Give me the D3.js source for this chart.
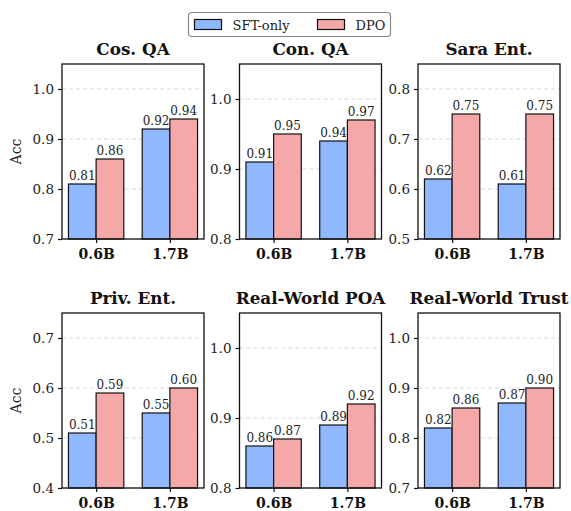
<!DOCTYPE html>
<html>
<head>
<meta charset="utf-8">
<script src="https://cdn.jsdelivr.net/npm/d3@7"></script>
<style>
  body { margin: 0; background: #fff; }
  svg { font-family: "DejaVu Serif", serif; }
</style>
</head>
<body>
<svg id="chart"></svg>
<script>
var width = 571;
var height = 511;

// data
var titles = ["Cos. QA", "Con. QA", "Sara Ent.", "Priv. Ent.", "Real-World POA", "Real-World Trust"];
var models = ["0.6B", "1.7B"];
var series = ["SFT-only", "DPO"];
var sftValues = [[0.81, 0.92], [0.91, 0.94], [0.62, 0.61], [0.51, 0.55], [0.86, 0.89], [0.82, 0.87]];
var dpoValues = [[0.86, 0.94], [0.95, 0.97], [0.75, 0.75], [0.59, 0.60], [0.87, 0.92], [0.86, 0.90]];
var yDomains = [[0.7, 1.05], [0.8, 1.05], [0.5, 0.85], [0.4, 0.75], [0.8, 1.05], [0.7, 1.05]];
var yTicks = [[0.7, 0.8, 0.9, 1.0], [0.8, 0.9, 1.0], [0.5, 0.6, 0.7, 0.8],
              [0.4, 0.5, 0.6, 0.7], [0.8, 0.9, 1.0], [0.7, 0.8, 0.9, 1.0]];

var colors = ["#8fb8ff", "#f4a8a8"];

// layout
var colLeft = [62, 239.5, 418];
var rowTop = [64, 313];
var pw = 142;
var ph = 175;
var barW = 0.375;

var svg = d3.select("#chart")
            .attr("width", width)
            .attr("height", height);

titles.forEach(function (title, i) {
    var col = i % 3;
    var row = Math.floor(i / 3);

    var g = svg.append("g")
               .attr("transform", "translate(" + colLeft[col] + "," + rowTop[row] + ")");

    var xScale = d3.scaleLinear()
                   .domain([-0.4625, 1.4625])
                   .range([0, pw]);

    var yScale = d3.scaleLinear()
                   .domain(yDomains[i])
                   .range([ph, 0]);

    // grid
    g.selectAll(".grid")
      .data(yTicks[i])
      .enter()
      .append("line")
        .attr("x1", 0)
        .attr("x2", pw)
        .attr("y1", d => yScale(d))
        .attr("y2", d => yScale(d))
        .attr("stroke", "#d9d9d9")
        .attr("stroke-width", 1)
        .attr("stroke-dasharray", "4,3");

    var bars = [];
    models.forEach(function (m, j) {
        bars.push({ x: j - barW / 2, v: sftValues[i][j], s: 0 });
        bars.push({ x: j + barW / 2, v: dpoValues[i][j], s: 1 });
    });

    g.selectAll("rect")
      .data(bars)
      .enter()
      .append("rect")
        .attr("x", d => xScale(d.x - barW / 2))
        .attr("width", d => xScale(barW) - xScale(0))
        .attr("y", d => yScale(d.v))
        .attr("height", d => ph - yScale(d.v))
        .attr("fill", d => colors[d.s])
        .attr("stroke", "#111")
        .attr("stroke-width", 1.2);

    g.selectAll(".val")
      .data(bars)
      .enter()
      .append("text")
        .attr("x", d => xScale(d.x))
        .attr("y", d => yScale(d.v) - 4)
        .attr("text-anchor", "middle")
        .attr("font-size", "12px")
        .attr("fill", "#222")
        .text(d => d.v.toFixed(2));

    var yAxis = d3.axisLeft(yScale)
                  .tickValues(yTicks[i])
                  .tickFormat(d3.format(".1f"))
                  .tickSize(4)
                  .tickSizeOuter(0);

    var xAxis = d3.axisBottom(xScale)
                  .tickValues([0, 1])
                  .tickFormat(d => models[d])
                  .tickSize(4)
                  .tickSizeOuter(0);

    var ya = g.append("g").call(yAxis);
    ya.select(".domain").remove();
    ya.selectAll("text")
      .attr("font-size", "13.5px")
      .attr("font-family", "DejaVu Serif")
      .attr("fill", "#222")
      .attr("dx", "-1px");
    ya.selectAll("line").attr("stroke", "#111").attr("stroke-width", 1.2);

    var xa = g.append("g")
              .attr("transform", "translate(0," + ph + ")")
              .call(xAxis);
    xa.select(".domain").remove();
    xa.selectAll("text")
      .attr("font-size", "14px")
      .attr("font-weight", "bold")
      .attr("font-family", "DejaVu Serif")
      .attr("fill", "#111")
      .attr("dy", "0.9em");
    xa.selectAll("line").attr("stroke", "#111").attr("stroke-width", 1.2);

    // frame
    g.append("rect")
      .attr("width", pw)
      .attr("height", ph)
      .attr("fill", "none")
      .attr("stroke", "#111")
      .attr("stroke-width", 1.3);

    g.append("text")
      .attr("x", pw / 2)
      .attr("y", -9)
      .attr("text-anchor", "middle")
      .attr("font-size", "16.8px")
      .attr("font-weight", "bold")
      .attr("fill", "#111")
      .text(title);

    if (col == 0) {
        g.append("text")
          .attr("transform", "translate(-41," + (ph / 2) + ") rotate(-90)")
          .attr("text-anchor", "middle")
          .attr("font-size", "14px")
          .attr("fill", "#222")
          .text("Acc");
    }
});

// legend
var legend = svg.append("g").attr("transform", "translate(188.5,12.5)");
legend.append("rect")
  .attr("width", 202)
  .attr("height", 24)
  .attr("rx", 3)
  .attr("fill", "#fff")
  .attr("stroke", "#888")
  .attr("stroke-width", 1.2);

var legendX = [6, 129];
series.forEach(function (s, i) {
    legend.append("rect")
      .attr("x", legendX[i])
      .attr("y", 7)
      .attr("width", 27)
      .attr("height", 10)
      .attr("fill", colors[i])
      .attr("stroke", "#111")
      .attr("stroke-width", 1.2);
    legend.append("text")
      .attr("x", legendX[i] + 38)
      .attr("y", 17)
      .attr("font-size", "13px")
      .attr("fill", "#222")
      .text(s);
});
</script>
</body>
</html>
